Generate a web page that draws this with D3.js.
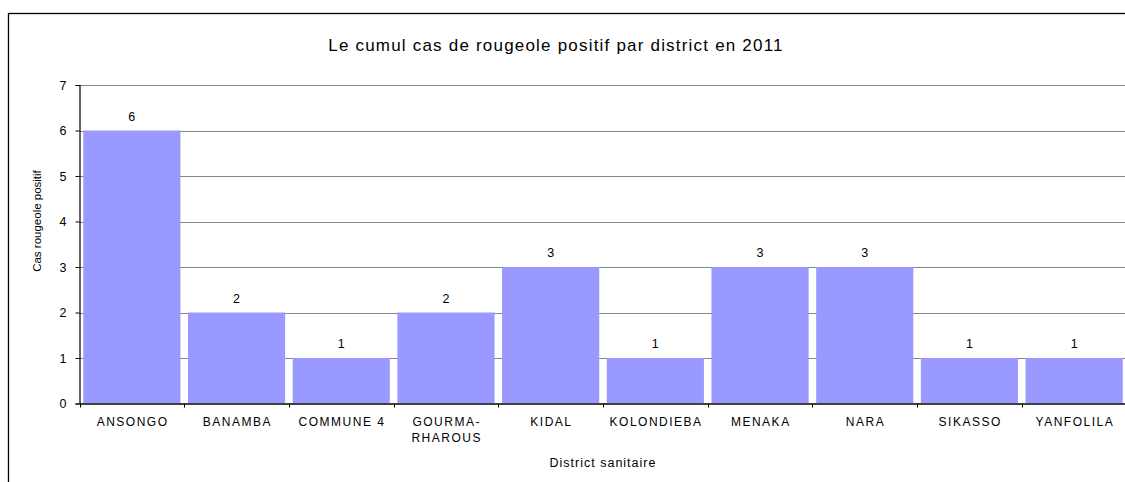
<!DOCTYPE html>
<html>
<head>
<meta charset="utf-8">
<script src="https://cdn.jsdelivr.net/npm/d3@7"></script>
<style>
  html, body { margin: 0; padding: 0; background: #fff; }
  svg { display: block; font-family: Arial, "Liberation Sans", sans-serif; }
</style>
</head>
<body>
<svg id="chart" width="1125" height="482"></svg>
<script>
const title = "Le cumul cas de rougeole positif par district en 2011";
const categories = ["ANSONGO", "BANAMBA", "COMMUNE 4", "GOURMA-\nRHAROUS", "KIDAL", "KOLONDIEBA", "MENAKA", "NARA", "SIKASSO", "YANFOLILA"];
const values = [6, 2, 1, 2, 3, 1, 3, 3, 1, 1];
const yTicks = [0, 1, 2, 3, 4, 5, 6, 7];
const yTitle = "Cas rougeole positif";
const xTitle = "District sanitaire";

(function () {
const svg = d3.select("#chart");
const W = 1125, H = 482;
const mLeft = 79.5, mRight = 1126.5, mTop = 85, mBottom = 403.5;

svg.append("rect").attr("width", W).attr("height", H).attr("fill", "#fff");
// outer chart frame
svg.append("rect").attr("x", 8.5).attr("y", 13.5).attr("width", 1200).attr("height", 600)
  .attr("fill", "none").attr("stroke", "#000").attr("stroke-width", 1.3);

const x = d3.scaleBand().domain(categories).range([mLeft, mRight]).paddingInner(0.072).paddingOuter(0.036);
const xb = d3.scaleBand().domain(categories).range([mLeft, mRight]).padding(0);
const y = d3.scaleLinear().domain([0, 7]).range([mBottom, mTop]);

// gridlines
svg.append("g").selectAll("line").data(yTicks.filter(d => d > 0)).join("line")
  .attr("x1", mLeft).attr("x2", mRight)
  .attr("y1", d => Math.round(y(d)) + 0.5).attr("y2", d => Math.round(y(d)) + 0.5)
  .attr("stroke", "#868686").attr("stroke-width", 1);

// bars
svg.append("g").selectAll("rect").data(values).join("rect")
  .attr("x", (d, i) => x(categories[i]))
  .attr("width", x.bandwidth())
  .attr("y", d => y(d))
  .attr("height", d => y(0) - y(d))
  .attr("fill", "#9999FF");

// value labels
svg.append("g").selectAll("text").data(values).join("text")
  .attr("x", (d, i) => x(categories[i]) + x.bandwidth() / 2)
  .attr("y", d => y(d) - 10)
  .attr("text-anchor", "middle")
  .attr("font-size", 12.5)
  .attr("fill", "#000")
  .text(d => d);

// y axis
const yAxis = d3.axisLeft(y).tickValues(yTicks).tickSize(4).tickPadding(9).tickFormat(d3.format("d"));
const gy = svg.append("g").attr("transform", `translate(${mLeft},0)`).call(yAxis);
gy.select(".domain").attr("stroke", "#000").attr("stroke-width", 1.2);
gy.selectAll(".tick line").attr("stroke", "#000");
gy.selectAll(".tick text").attr("font-size", 12.5).attr("font-family", "Arial, 'Liberation Sans', sans-serif").attr("fill", "#000");

// x axis
const xAxis = d3.axisBottom(xb).tickSize(0).tickFormat("");
const gx = svg.append("g").attr("transform", `translate(0,${mBottom})`).call(xAxis);
gx.select(".domain").attr("stroke", "#404040").attr("stroke-width", 1.8);
// boundary ticks
gx.append("g").selectAll("line").data(categories).join("line")
  .attr("x1", d => Math.round(xb(d)) + 0.5).attr("x2", d => Math.round(xb(d)) + 0.5)
  .attr("y1", 0).attr("y2", 4).attr("stroke", "#000");

// category labels
const lab = svg.append("g").selectAll("text").data(categories).join("text")
  .attr("x", d => xb(d) + xb.bandwidth() / 2)
  .attr("y", 426)
  .attr("text-anchor", "middle")
  .attr("font-size", 12)
  .attr("letter-spacing", "1.5px")
  .attr("fill", "#000");
lab.each(function(d) {
  const lines = d.split("\n");
  const t = d3.select(this);
  lines.forEach((l, i) => {
    t.append("tspan").attr("x", xb(d) + xb.bandwidth() / 2 + 0.75).attr("dy", i === 0 ? 0 : 16).text(l);
  });
});

// title
svg.append("text").attr("x", 556).attr("y", 50.5).attr("text-anchor", "middle")
  .attr("font-size", 17).attr("letter-spacing", "1.2px").attr("fill", "#000").text(title);

// axis titles
svg.append("text").attr("transform", "translate(41,221) rotate(-90)").attr("text-anchor", "middle")
  .attr("font-size", 11.5).attr("fill", "#000").text(yTitle);
svg.append("text").attr("x", 603).attr("y", 467).attr("text-anchor", "middle")
  .attr("font-size", 12.5).attr("letter-spacing", "1px").attr("fill", "#000").text(xTitle);
})();
</script>
</body>
</html>
